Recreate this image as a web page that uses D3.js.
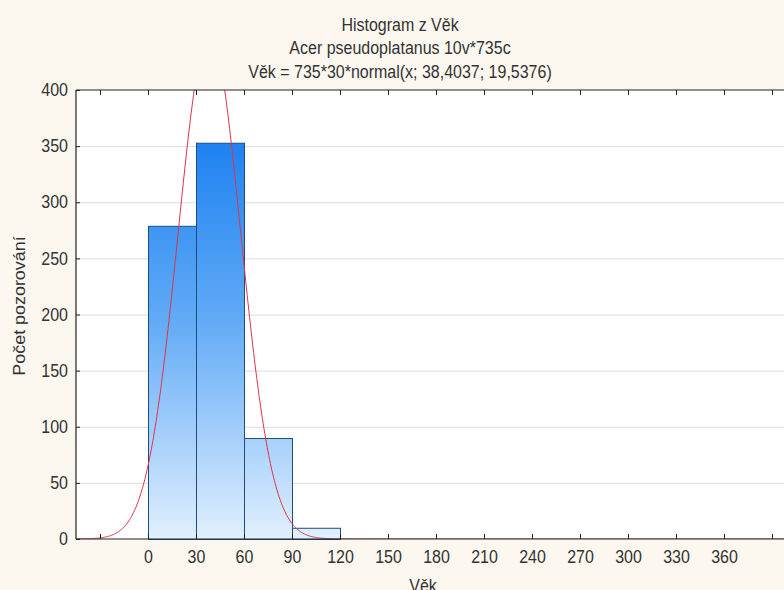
<!DOCTYPE html>
<html>
<head>
<meta charset="utf-8">
<script src="https://cdn.jsdelivr.net/npm/d3@7/dist/d3.min.js"></script>
<style>
  html, body { margin: 0; padding: 0; background: #fcf8ef; }
  svg { display: block; }
  text { font-family: "Liberation Sans", Arial, sans-serif; fill: #333; }
</style>
</head>
<body>
<svg id="chart" width="784" height="590"></svg>
<script>
// Age histogram (bin width 30) with fitted normal curve
const titleLines = ["Histogram z Věk", "Acer pseudoplatanus 10v*735c", "Věk = 735*30*normal(x; 38,4037; 19,5376)"];
const binStarts = [0, 30, 60, 90];
const binCounts = [279, 353, 90, 10];
const binWidth = 30;
const xTicks = [-30, 0, 30, 60, 90, 120, 150, 180, 210, 240, 270, 300, 330, 360, 390];
const xTickLabels = ["", "0", "30", "60", "90", "120", "150", "180", "210", "240", "270", "300", "330", "360", ""];
const yTicks = [0, 50, 100, 150, 200, 250, 300, 350, 400];
const fitN = 735, fitMean = 38.4037, fitSd = 19.5376;

const svg = d3.select("#chart");
const m = { left: 76, top: 90, right: 784, bottom: 539 };
const FONT = "Liberation Sans, Arial, sans-serif";
const TALL = "scale(1,1.12)"; // slightly tall lettering

const x = d3.scaleLinear().domain([-45, 397.5]).range([m.left, m.right]);
const y = d3.scaleLinear().domain([0, 400]).range([m.bottom, m.top]);

// Titles
svg.selectAll("text.title").data(titleLines).join("text")
  .attr("class", "title")
  .attr("transform", (d, i) => `translate(400,${30.5 + i * 23.5}) ${TALL}`)
  .attr("text-anchor", "middle").attr("font-size", 16)
  .text(d => d);

// Plot area
svg.append("rect").attr("x", m.left).attr("y", m.top)
  .attr("width", m.right - m.left + 10).attr("height", m.bottom - m.top)
  .attr("fill", "#fff");

svg.append("clipPath").attr("id", "plotClip").append("rect")
  .attr("x", m.left).attr("y", m.top)
  .attr("width", m.right - m.left).attr("height", m.bottom - m.top);

// Horizontal gridlines
svg.append("g").selectAll("line").data(yTicks.filter(v => v > 0 && v < 400)).join("line")
  .attr("x1", m.left).attr("x2", m.right)
  .attr("y1", d => y(d) + 0.5).attr("y2", d => y(d) + 0.5)
  .attr("stroke", "#dcdcdc").attr("stroke-width", 1);

// Bar gradient
const grad = svg.append("defs").append("linearGradient")
  .attr("id", "barGrad").attr("gradientUnits", "userSpaceOnUse")
  .attr("x1", 0).attr("x2", 0).attr("y1", y(353)).attr("y2", y(0));
grad.append("stop").attr("offset", 0).attr("stop-color", "#1f82f0");
grad.append("stop").attr("offset", 0.45).attr("stop-color", "#62abf6");
grad.append("stop").attr("offset", 1).attr("stop-color", "#e2f0fd");

svg.append("g").selectAll("rect").data(binStarts.map((s, i) => ({ s, c: binCounts[i] }))).join("rect")
  .attr("x", d => x(d.s) + 0.5)
  .attr("y", d => y(d.c) + 0.5)
  .attr("width", d => x(d.s + binWidth) - x(d.s))
  .attr("height", d => y(0) - y(d.c))
  .attr("fill", "url(#barGrad)")
  .attr("stroke", "#1d4c80").attr("stroke-width", 1);

// Fitted normal curve
const pdf = v => fitN * binWidth * Math.exp(-0.5 * ((v - fitMean) / fitSd) ** 2) / (fitSd * Math.sqrt(2 * Math.PI));
const curvePts = d3.range(-45, 398, 0.5).map(v => [v, pdf(v)]);
svg.append("path").datum(curvePts)
  .attr("clip-path", "url(#plotClip)")
  .attr("d", d3.line().x(d => x(d[0])).y(d => y(d[1])))
  .attr("fill", "none").attr("stroke", "#e2324a").attr("stroke-width", 1);

// Frame
const frame = svg.append("g").attr("stroke", "#222").attr("stroke-width", 1.2).attr("fill", "none");
frame.append("line").attr("x1", m.left).attr("x2", m.left).attr("y1", m.top).attr("y2", m.bottom);
frame.append("line").attr("x1", m.left).attr("x2", m.right + 10).attr("y1", m.top).attr("y2", m.top);
frame.append("line").attr("x1", m.left).attr("x2", m.right + 10).attr("y1", m.bottom).attr("y2", m.bottom);

// X axis (bottom, inward ticks) and matching top ticks
const xAxis = d3.axisBottom(x).tickValues(xTicks)
  .tickFormat((d, i) => xTickLabels[i]).tickSizeInner(-5).tickSizeOuter(0).tickPadding(10);
const gx = svg.append("g").attr("transform", `translate(0,${m.bottom})`).call(xAxis);
gx.select(".domain").remove();
gx.selectAll(".tick line").attr("stroke", "#222");
gx.selectAll(".tick text").attr("font-size", 16).attr("fill", "#333").attr("font-family", FONT)
  .attr("transform", TALL);

const gxt = svg.append("g").attr("transform", `translate(0,${m.top})`)
  .call(d3.axisTop(x).tickValues(xTicks).tickFormat("").tickSizeInner(-5).tickSizeOuter(0));
gxt.select(".domain").remove();
gxt.selectAll(".tick line").attr("stroke", "#222");

// Y axis (left, inward ticks)
const yAxis = d3.axisLeft(y).tickValues(yTicks).tickSizeInner(-4).tickSizeOuter(0).tickPadding(8);
const gy = svg.append("g").attr("transform", `translate(${m.left},0)`).call(yAxis);
gy.select(".domain").remove();
gy.selectAll(".tick line").attr("stroke", "#222");
gy.selectAll(".tick text").attr("font-size", 16).attr("fill", "#333").attr("font-family", FONT)
  .attr("transform", TALL);

// Axis titles
svg.append("text").attr("transform", `translate(423,592) ${TALL}`).attr("text-anchor", "middle")
  .attr("font-size", 16).text("Věk");
svg.append("text").attr("transform", "translate(25,306) rotate(-90) scale(1.12,1)")
  .attr("text-anchor", "middle").attr("font-size", 16).text("Počet pozorování");
</script>
</body>
</html>
